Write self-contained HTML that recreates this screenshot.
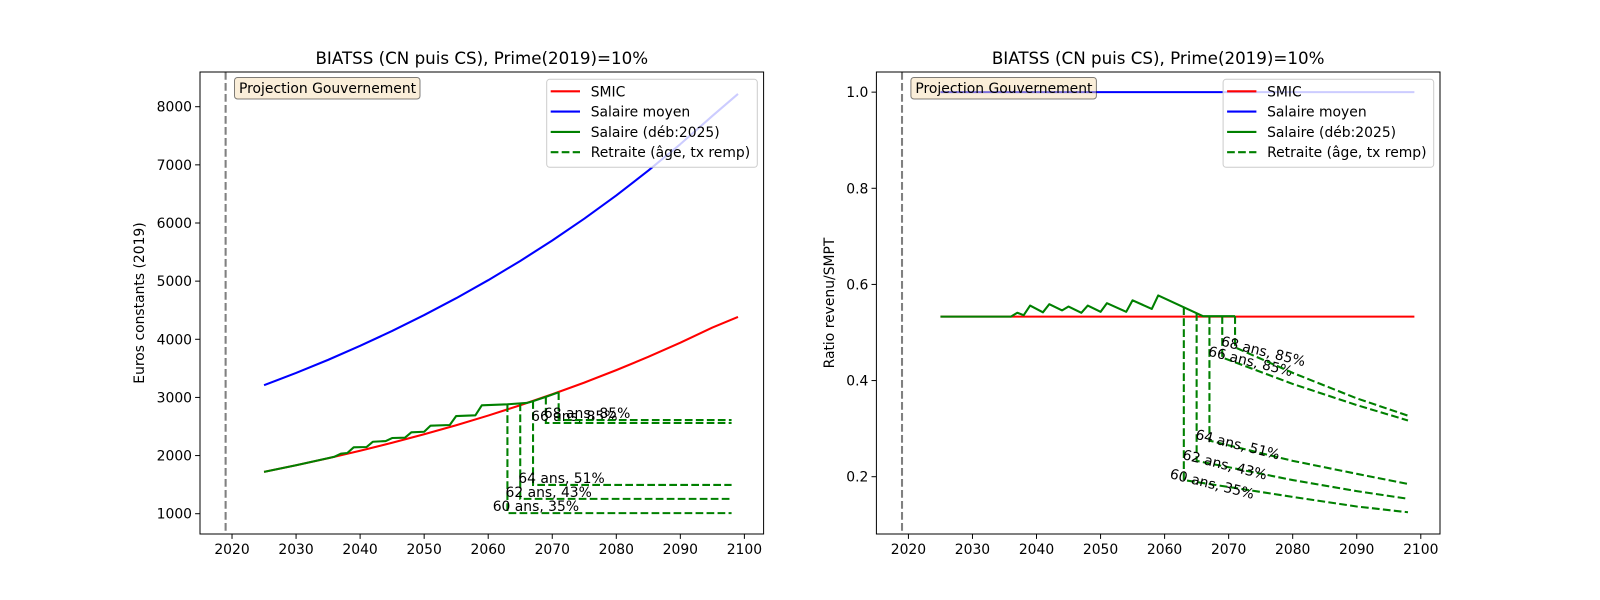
<!DOCTYPE html>
<html><head><meta charset="utf-8">
<style>
html,body{margin:0;padding:0;background:#fff;}
svg{display:block;font-family:"DejaVu Sans","Liberation Sans",sans-serif;}
</style></head>
<body>
<svg id="fig" width="1600" height="600" viewBox="0 0 1600 600" xmlns="http://www.w3.org/2000/svg"></svg>
<script>
// ---- data: left chart (euros constants 2019)
const xTicks = [2020,2030,2040,2050,2060,2070,2080,2090,2100];
const leftYTicks = [1000,2000,3000,4000,5000,6000,7000,8000];
const rightYTicks = [0.2,0.4,0.6,0.8,1.0];
const baseYears = [2025,2030,2035,2040,2045,2050,2055,2060,2065,2070,2075,2080,2085,2090,2095,2099];
const smicEuros = [1720,1833,1954,2083,2220,2366,2522,2688,2865,3054,3255,3470,3698,3942,4202,4385];
const moyenEuros = [3210,3421,3646,3887,4143,4416,4706,5016,5347,5699,6074,6474,6901,7356,7841,8220];
const salYears = [2025,2030,2036,2037,2038,2039,2041,2042,2044,2045,2047,2048,2050,2051,2054,2055,2058,2059,2063,2066,2067,2069,2071];
const salEuros = [1720,1833,1980,2032,2044,2142,2147,2238,2250,2302,2307,2400,2410,2514,2526,2680,2692,2864,2882,2905,2935,3010,3088];
const retireYears = [2063,2065,2067,2069,2071];
const retireLabels = ["60 ans, 35%","62 ans, 43%","64 ans, 51%","66 ans, 85%","68 ans, 85%"];
const pensionEuros = [1010,1255,1495,2560,2610];
const pensionEndYear = 2098;
// ---- data: right chart (ratio revenu/SMPT)
const ratioYears = [2025,2099];
const smicRatio = [0.533,0.533];
const moyenRatio = [1.0,1.0];
const salRatioYears = [2025,2036,2037,2038,2039,2041,2042,2044,2045,2047,2048,2050,2051,2054,2055,2058,2059,2066,2071];
const salRatio = [0.533,0.533,0.541,0.536,0.556,0.542,0.559,0.546,0.554,0.541,0.556,0.543,0.561,0.543,0.567,0.549,0.577,0.534,0.534];
const pensionRatioYears = [[2063,2080,2090,2098],[2065,2080,2090,2098],[2067,2080,2090,2098],[2069,2080,2090,2098],[2071,2080,2090,2098]];
const pensionRatio = [[0.193,0.158,0.138,0.126],[0.233,0.193,0.170,0.154],[0.275,0.233,0.206,0.185],[0.448,0.393,0.349,0.317],[0.469,0.416,0.363,0.327]];

const NS="http://www.w3.org/2000/svg";
const fig=document.getElementById('fig');
function mk(tag,attrs,parent){const e=document.createElementNS(NS,tag);for(const k in attrs)e.setAttribute(k,attrs[k]);(parent||fig).appendChild(e);return e;}
function interp(xs,ys,x){for(let i=0;i<xs.length-1;i++){if(x>=xs[i]&&x<=xs[i+1]){return ys[i]+(ys[i+1]-ys[i])*(x-xs[i])/(xs[i+1]-xs[i]);}}return ys[ys.length-1];}

function chart(cfg){
  const L=cfg.left,R=cfg.left+563.6,T=72,B=534;
  const X=y=>L+(y-2015)*(R-L)/88;
  const Y=v=>B-(v-cfg.ymin)*(B-T)/(cfg.ymax-cfg.ymin);
  const g=mk('g',{});
  
  
  const pts=(xs,ys)=>xs.map((x,i)=>X(x).toFixed(2)+','+Y(ys[i]).toFixed(2)).join(' ');
  const vl=mk('line',{x1:X(2019),x2:X(2019),y1:T,y2:B,stroke:'#808080','stroke-width':2.08,'stroke-dasharray':'7.7,3.3'},g);
  
  
  const lines=[[cfg.baseX,cfg.smic,'#ff0000','smic-line'],[cfg.baseX,cfg.moyen,'#0000ff','salaire-moyen-line'],[cfg.salX,cfg.sal,'#008000','salaire-line']];
  lines.forEach(l=>{const p=mk('polyline',{points:pts(l[0],l[1]),fill:'none',stroke:l[2],'stroke-width':2.08,'stroke-linejoin':'round'},g);
    
    });
  retireYears.forEach((ry,i)=>{
    const top=interp(cfg.salX,cfg.sal,ry);
    const px=cfg.penX[i], pv=cfg.penV[i];
    const all=[[ry,top]].concat(px.map((x,j)=>[x,pv[j]]));
    const p=mk('polyline',{points:all.map(a=>X(a[0]).toFixed(2)+','+Y(a[1]).toFixed(2)).join(' '),fill:'none',stroke:'#008000','stroke-width':2.08,'stroke-dasharray':'7.7,3.3'},g);
    
    
    const tx=X(ry-2.3), ty=Y(pv[0])-2;
    const t=mk('text',{x:tx,y:ty,'font-size':'13.9px',fill:'#000',transform:cfg.rot?`rotate(14 ${tx} ${ty})`:''},g);
    t.textContent=retireLabels[i];
    
    
  });
  const pb=mk('g',{},g);
  
  
  mk('rect',{x:L+34.5,y:77.5,width:185.5,height:21.5,rx:3,fill:'rgba(245,222,179,0.5)',stroke:'rgba(0,0,0,0.5)','stroke-width':1},pb);
  const pt=mk('text',{x:L+39,y:93,'font-size':'13.9px'},pb);pt.textContent='Projection Gouvernement';
  const fr=mk('rect',{x:L,y:T,width:R-L,height:B-T,fill:'none',stroke:'#000','stroke-width':1},g);
  
  
  xTicks.forEach(v=>{const x=X(v);mk('line',{x1:x,x2:x,y1:B,y2:B+4.9,stroke:'#000','stroke-width':1},g);
    const t=mk('text',{x:x,y:B+20,'font-size':'13.9px','text-anchor':'middle'},g);t.textContent=v;
    
    });
  cfg.yt.forEach(v=>{const y=Y(v);mk('line',{x1:L-4.9,x2:L,y1:y,y2:y,stroke:'#000','stroke-width':1},g);
    const t=mk('text',{x:L-8,y:y+5,'font-size':'13.9px','text-anchor':'end'},g);t.textContent=cfg.fmt(v);
    
    });
  const yl=mk('text',{x:cfg.ylx,y:(T+B)/2,'font-size':'13.9px','text-anchor':'middle',transform:`rotate(-90 ${cfg.ylx} ${(T+B)/2})`},g);
  yl.textContent=cfg.ylabel;
  
  
  const ti=mk('text',{x:(L+R)/2,y:64,'font-size':'16.7px','text-anchor':'middle'},g);
  ti.textContent='BIATSS (CN puis CS), Prime(2019)=10%';
  
  
  const lg=mk('g',{},g);
  
  
  const lx=L+346.7;
  mk('rect',{x:lx,y:79.3,width:210.6,height:88,rx:3,fill:'rgba(255,255,255,0.8)',stroke:'#cccccc','stroke-width':1},lg);
  const ent=[['SMIC','#ff0000',''],['Salaire moyen','#0000ff',''],['Salaire (déb:2025)','#008000',''],['Retraite (âge, tx remp)','#008000','7.7,3.3']];
  ent.forEach((e,i)=>{const y=91.3+i*20.3;
    const eg=mk('g',{},lg);
    
    
    mk('line',{x1:lx+4,x2:lx+33.3,y1:y,y2:y,stroke:e[1],'stroke-width':2.08,'stroke-dasharray':e[2]||'none'},eg);
    const t=mk('text',{x:lx+44,y:y+5,'font-size':'13.9px'},eg);t.textContent=e[0];});
}

chart({name:'left-chart',left:200,ymin:651,ymax:8597,yt:leftYTicks,fmt:v=>String(v),ylabel:'Euros constants (2019)',ylx:144,
  baseX:baseYears,smic:smicEuros,moyen:moyenEuros,salX:salYears,sal:salEuros,
  penX:retireYears.map(y=>[y,pensionEndYear]),penV:pensionEuros.map(v=>[v,v]),rot:false});
chart({name:'right-chart',left:876.4,ymin:0.0808,ymax:1.0419,yt:rightYTicks,fmt:v=>v.toFixed(1),ylabel:'Ratio revenu/SMPT',ylx:834,
  baseX:ratioYears,smic:smicRatio,moyen:moyenRatio,salX:salRatioYears,sal:salRatio,
  penX:pensionRatioYears,penV:pensionRatio,rot:true});
</script>
</body></html>
